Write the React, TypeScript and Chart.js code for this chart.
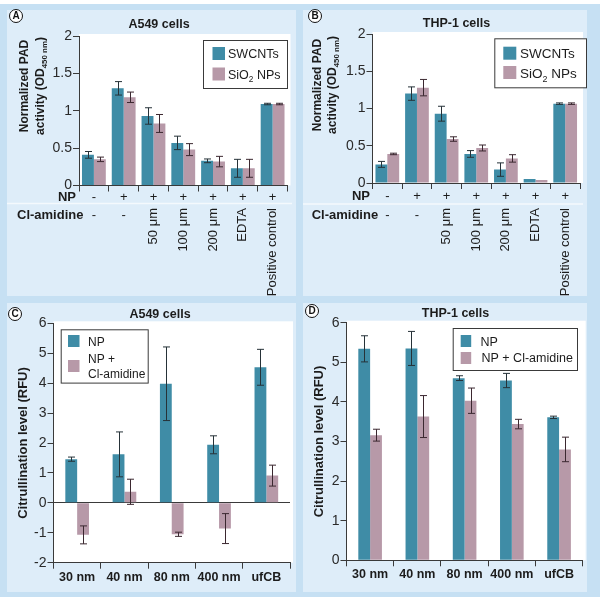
import React, { useEffect, useRef } from "react";
import { Chart, registerables } from "chart.js";
Chart.register(...registerables);

const FONT = "'Liberation Sans', Arial, Helvetica, sans-serif";
const TEAL = "#3f8ca6";
const MAUVE = "#b799a8";
const ERR_TEAL = "#263238";
const ERR_MAUVE = "#3b2830";
const AXIS = "#3a3a3a";
const TEXT = "#1c1c1c";
const OUTER = "#c6e0f3";
const PANEL = "#deedf9";

// ---- Panels A & B (PAD activity) ----
const npRow = ["-", "+", "+", "+", "+", "+", "+"];
const clRow = ["-", "-", "50 μm", "100 μm", "200 μm", "EDTA", "Positive control"];

const aSwcnt = [0.41, 1.3, 0.93, 0.57, 0.33, 0.23, 1.09];
const aSwcntErr = [0.045, 0.09, 0.11, 0.09, 0.025, 0.12, 0.01];
const aSio2 = [0.35, 1.18, 0.83, 0.48, 0.32, 0.23, 1.09];
const aSio2Err = [0.03, 0.07, 0.12, 0.08, 0.07, 0.12, 0.01];

const bSwcnt = [0.25, 1.2, 0.93, 0.39, 0.18, 0.055, 1.065];
const bSwcntErr = [0.04, 0.09, 0.1, 0.045, 0.09, 0, 0.01];
const bSio2 = [0.39, 1.28, 0.59, 0.47, 0.33, 0.04, 1.065];
const bSio2Err = [0.01, 0.11, 0.03, 0.04, 0.05, 0, 0.01];

// ---- Panels C & D (citrullination) ----
const sizes = ["30 nm", "40 nm", "80 nm", "400 nm", "ufCB"];

const cNp = [1.46, 1.62, 3.98, 1.94, 4.53];
const cNpErr = [0.07, 0.75, 1.23, 0.3, 0.6];
const cCl = [-1.07, 0.37, -1.05, -0.86, 0.91];
const cClErr = [0.3, 0.42, 0.07, 0.5, 0.35];

const dNp = [5.34, 5.35, 4.6, 4.54, 3.61];
const dNpErr = [0.33, 0.43, 0.06, 0.18, 0.03];
const dCl = [3.16, 3.63, 4.03, 3.44, 2.8];
const dClErr = [0.15, 0.53, 0.32, 0.12, 0.31];

const SUB: Record<string, string> = {
  "₀": "0", "₁": "1", "₂": "2", "₃": "3", "₄": "4", "₅": "5", "₆": "6", "₇": "7", "₈": "8", "₉": "9", "ₙ": "n", "ₘ": "m",
};

function segs(text: string) {
  const out: { t: string; sub: boolean }[] = [];
  const ch = Array.from(text);
  ch.forEach((c, i) => {
    let sub = c in SUB;
    if (c === " " && i > 0 && ch[i - 1] in SUB && i + 1 < ch.length && ch[i + 1] in SUB) sub = true;
    const t = sub ? SUB[c] ?? c : c;
    const last = out[out.length - 1];
    if (last && last.sub === sub) last.t += t;
    else out.push({ t, sub });
  });
  return out;
}

function drawRich(ctx: CanvasRenderingContext2D, text: string, x: number, y: number, size: number, weight: string, align: "left" | "center") {
  const sg = segs(text);
  const f = (sub: boolean) => `${weight} ${sub ? size * 0.66 : size}px ${FONT}`;
  let total = 0;
  sg.forEach((s) => {
    ctx.font = f(s.sub);
    total += ctx.measureText(s.t).width;
  });
  let cx = align === "center" ? x - total / 2 : x;
  ctx.textAlign = "left";
  ctx.textBaseline = "alphabetic";
  sg.forEach((s) => {
    ctx.font = f(s.sub);
    ctx.fillText(s.t, cx, y + (s.sub ? size * 0.25 : 0));
    cx += ctx.measureText(s.t).width;
  });
}

type Series = { label: string; values: number[]; errors: number[]; color: string; err: string };
type LegendItem = { sq: [number, number, number, number]; tx: number; ty: number[]; lines: string[] };
type Rows = { npY: number; lineY: number; clY: number; rotTop: number; npLabelX: number; clLabelX: number };
type Cfg = {
  key: string;
  pos: [number, number, number, number];
  labels: string[];
  series: Series[];
  yMin: number;
  yMax: number;
  yStep: number;
  area: [number, number, number, number];
  catPct: number;
  title: [string, number, number];
  yTitle: { lines: string[]; xs: number[]; cy: number; size: number };
  legend: { box: [number, number, number, number]; font: number; items: LegendItem[] };
  zeroLine: boolean;
  rows?: Rows;
};

const panels: Cfg[] = [
  {
    key: "A",
    pos: [7, 10, 289, 286],
    labels: clRow,
    series: [
      { label: "SWCNTs", values: aSwcnt, errors: aSwcntErr, color: TEAL, err: ERR_TEAL },
      { label: "SiO₂ NPs", values: aSio2, errors: aSio2Err, color: MAUVE, err: ERR_MAUVE },
    ],
    yMin: 0, yMax: 2, yStep: 0.5,
    area: [72, 26, 280.5, 175.5],
    catPct: 0.8,
    title: ["A549 cells", 152, 15],
    yTitle: { lines: ["Normalized PAD", "activity (OD₄₅₀ ₙₘ)"], xs: [17, 33], cy: 76, size: 12 },
    legend: {
      box: [196, 30, 84, 48], font: 12.5,
      items: [
        { sq: [205.5, 37, 12.5, 13], tx: 221, ty: [43.5], lines: ["SWCNTs"] },
        { sq: [205.5, 57.5, 12.5, 13], tx: 221, ty: [64], lines: ["SiO₂ NPs"] },
      ],
    },
    zeroLine: false,
    rows: { npY: 187, lineY: 193.5, clY: 205.5, rotTop: 198, npLabelX: 69, clLabelX: 10 },
  },
  {
    key: "B",
    pos: [303, 10, 284, 286],
    labels: clRow,
    series: [
      { label: "SWCNTs", values: bSwcnt, errors: bSwcntErr, color: TEAL, err: ERR_TEAL },
      { label: "SiO₂ NPs", values: bSio2, errors: bSio2Err, color: MAUVE, err: ERR_MAUVE },
    ],
    yMin: 0, yMax: 2, yStep: 0.5,
    area: [69.5, 24, 277, 173],
    catPct: 0.8,
    title: ["THP-1 cells", 153.5, 13.5],
    yTitle: { lines: ["Normalized PAD", "activity (OD₄₅₀ ₙₘ)"], xs: [13.7, 28.7], cy: 75, size: 12 },
    legend: {
      box: [191.3, 28.3, 91.7, 49], font: 13.5,
      items: [
        { sq: [200.3, 36.7, 13, 13], tx: 217, ty: [43.3], lines: ["SWCNTs"] },
        { sq: [200.3, 56, 13, 13], tx: 217, ty: [63.3], lines: ["SiO₂ NPs"] },
      ],
    },
    zeroLine: false,
    rows: { npY: 186.7, lineY: 194, clY: 205, rotTop: 198, npLabelX: 67, clLabelX: 8.7 },
  },
  {
    key: "C",
    pos: [7, 303, 289, 289],
    labels: sizes,
    series: [
      { label: "NP", values: cNp, errors: cNpErr, color: TEAL, err: ERR_TEAL },
      { label: "NP + Cl-amidine", values: cCl, errors: cClErr, color: MAUVE, err: ERR_MAUVE },
    ],
    yMin: -2, yMax: 6, yStep: 1,
    area: [46.5, 20.3, 283, 259.7],
    catPct: 0.5,
    title: ["A549 cells", 153, 12],
    yTitle: { lines: ["Citrullination level (RFU)"], xs: [15], cy: 140, size: 13 },
    legend: {
      box: [53.7, 26.3, 87, 53.3], font: 12,
      items: [
        { sq: [61, 32, 11.5, 12], tx: 81, ty: [38.7], lines: ["NP"] },
        { sq: [61, 57, 11.5, 12], tx: 81, ty: [55.3, 70.3], lines: ["NP +", "Cl-amidine"] },
      ],
    },
    zeroLine: true,
  },
  {
    key: "D",
    pos: [303, 303, 284, 289],
    labels: sizes,
    series: [
      { label: "NP", values: dNp, errors: dNpErr, color: TEAL, err: ERR_TEAL },
      { label: "NP + Cl-amidine", values: dCl, errors: dClErr, color: MAUVE, err: ERR_MAUVE },
    ],
    yMin: 0, yMax: 6, yStep: 1,
    area: [43.5, 19.7, 279.7, 257.3],
    catPct: 0.5,
    title: ["THP-1 cells", 152.5, 10.3],
    yTitle: { lines: ["Citrullination level (RFU)"], xs: [15], cy: 138.5, size: 13 },
    legend: {
      box: [149.7, 25, 124.3, 42], font: 12.5,
      items: [
        { sq: [157.7, 32, 10.5, 12], tx: 177.5, ty: [38], lines: ["NP"] },
        { sq: [157.7, 49, 10.5, 12], tx: 178.5, ty: [54.5], lines: ["NP + Cl-amidine"] },
      ],
    },
    zeroLine: false,
  },
];

const letters: [string, number, number][] = [
  ["A", 16, 16],
  ["B", 315, 16],
  ["C", 15, 314],
  ["D", 312, 311],
];

function makePlugin(cfg: Cfg) {
  return {
    id: "custom" + cfg.key,
    beforeDraw(chart: any) {
      const { ctx, chartArea } = chart;
      ctx.save();
      ctx.fillStyle = "#ffffff";
      ctx.fillRect(chartArea.left, chartArea.top - 2, chartArea.right - chartArea.left + 3, chartArea.bottom - chartArea.top + 2);
      ctx.restore();
    },
    afterDatasetsDraw(chart: any) {
      const ctx: CanvasRenderingContext2D = chart.ctx;
      const ys = chart.scales.y;
      ctx.save();
      cfg.series.forEach((s, di) => {
        const meta = chart.getDatasetMeta(di);
        ctx.strokeStyle = s.err;
        ctx.lineWidth = 1;
        meta.data.forEach((el: any, i: number) => {
          const e = s.errors[i];
          if (!e) return;
          const x = Math.round(el.x) + 0.5;
          const y1 = ys.getPixelForValue(s.values[i] + e);
          const y2 = ys.getPixelForValue(s.values[i] - e);
          ctx.beginPath();
          ctx.moveTo(x, y1);
          ctx.lineTo(x, y2);
          ctx.moveTo(x - 3.5, y1);
          ctx.lineTo(x + 3.5, y1);
          ctx.moveTo(x - 3.5, y2);
          ctx.lineTo(x + 3.5, y2);
          ctx.stroke();
        });
      });
      ctx.restore();
    },
    afterDraw(chart: any) {
      const ctx: CanvasRenderingContext2D = chart.ctx;
      ctx.save();
      ctx.fillStyle = TEXT;
      // title
      ctx.font = `bold 12.5px ${FONT}`;
      ctx.textAlign = "center";
      ctx.textBaseline = "middle";
      ctx.fillText(cfg.title[0], cfg.title[1], cfg.title[2]);
      // y title
      cfg.yTitle.lines.forEach((line, i) => {
        ctx.save();
        ctx.translate(cfg.yTitle.xs[i], cfg.yTitle.cy);
        ctx.rotate(-Math.PI / 2);
        drawRich(ctx, line, 0, cfg.yTitle.size * 0.36, cfg.yTitle.size, "bold", "center");
        ctx.restore();
      });
      // legend
      const lg = cfg.legend;
      ctx.strokeStyle = "#3a3a3a";
      ctx.lineWidth = 1;
      ctx.fillStyle = "#ffffff";
      ctx.fillRect(lg.box[0], lg.box[1], lg.box[2], lg.box[3]);
      ctx.strokeRect(lg.box[0] + 0.5, lg.box[1] + 0.5, lg.box[2], lg.box[3]);
      lg.items.forEach((it, i) => {
        ctx.fillStyle = cfg.series[i].color;
        ctx.fillRect(it.sq[0], it.sq[1], it.sq[2], it.sq[3]);
        ctx.fillStyle = TEXT;
        it.lines.forEach((ln, j) => {
          drawRich(ctx, ln, it.tx, it.ty[j] + lg.font * 0.36, lg.font, "normal", "left");
        });
      });
      // rows under the axis (A/B)
      if (cfg.rows) {
        const r = cfg.rows;
        const xs = chart.scales.x;
        ctx.strokeStyle = "#f4f9fd";
        ctx.lineWidth = 1.5;
        ctx.beginPath();
        ctx.moveTo(0, r.lineY);
        ctx.lineTo(chart.width - 4, r.lineY);
        ctx.stroke();
        ctx.fillStyle = TEXT;
        ctx.textBaseline = "middle";
        ctx.font = `bold 13px ${FONT}`;
        ctx.textAlign = "right";
        ctx.fillText("NP", r.npLabelX, r.npY);
        ctx.textAlign = "left";
        ctx.fillText("Cl-amidine", r.clLabelX, r.clY);
        ctx.font = `13px ${FONT}`;
        ctx.textAlign = "center";
        npRow.forEach((s, i) => ctx.fillText(s, xs.getPixelForValue(i), r.npY));
        clRow.forEach((s, i) => {
          const x = xs.getPixelForValue(i);
          if (s === "-") {
            ctx.textAlign = "center";
            ctx.fillText(s, x, r.clY);
          } else {
            ctx.save();
            ctx.translate(x, r.rotTop);
            ctx.rotate(-Math.PI / 2);
            ctx.textAlign = "right";
            ctx.textBaseline = "middle";
            ctx.fillText(s, 0, 0);
            ctx.restore();
          }
        });
      }
      ctx.restore();
    },
  };
}

function Panel({ cfg }: { cfg: Cfg }) {
  const ref = useRef<HTMLCanvasElement>(null);
  useEffect(() => {
    if (!ref.current) return;
    const [l, t, r, b] = cfg.area;
    const w = cfg.pos[2];
    const h = cfg.pos[3];
    const isAB = !!cfg.rows;
    const chart = new Chart(ref.current, {
      type: "bar",
      data: {
        labels: cfg.labels,
        datasets: cfg.series.map((s) => ({
          label: s.label,
          data: s.values,
          backgroundColor: s.color,
          borderWidth: 0,
          categoryPercentage: cfg.catPct,
          barPercentage: 1,
        })),
      },
      options: {
        responsive: false,
        animation: false,
        devicePixelRatio: 1,
        layout: { padding: { left: 0, top: t, right: w - r, bottom: 0 } },
        plugins: { legend: { display: false }, tooltip: { enabled: false }, title: { display: false } },
        scales: {
          x: {
            grid: { offset: true, drawOnChartArea: false, drawTicks: true, tickLength: 6, color: AXIS, lineWidth: 1 },
            border: { color: AXIS, width: 1 },
            ticks: {
              display: !isAB,
              color: TEXT,
              padding: 1,
              maxRotation: 0,
              autoSkip: false,
              font: { family: FONT, size: 12.5, weight: "bold" },
            },
            afterFit: (s: any) => {
              s.height = h - b;
            },
          },
          y: {
            min: cfg.yMin,
            max: cfg.yMax,
            ticks: {
              stepSize: cfg.yStep,
              color: "#2a2a2a",
              padding: 1,
              font: { family: FONT, size: 14 },
              callback: (v: any) => String(Number(Number(v).toFixed(2))),
            },
            grid: {
              drawOnChartArea: cfg.zeroLine,
              tickLength: 6,
              color: (c: any) => (cfg.zeroLine && c.tick && c.tick.value === 0 ? AXIS : "rgba(0,0,0,0)"),
              tickColor: AXIS,
              lineWidth: 1,
            },
            border: { color: AXIS, width: 1 },
            afterFit: (s: any) => {
              s.width = l;
            },
          },
        },
      } as any,
      plugins: [makePlugin(cfg)],
    });
    return () => chart.destroy();
  }, [cfg]);
  return (
    <div
      style={{
        position: "absolute",
        left: cfg.pos[0],
        top: cfg.pos[1],
        width: cfg.pos[2],
        height: cfg.pos[3],
        background: PANEL,
      }}
    >
      <canvas ref={ref} width={cfg.pos[2]} height={cfg.pos[3]} style={{ display: "block", width: cfg.pos[2], height: cfg.pos[3] }} />
    </div>
  );
}

export default function App() {
  return (
    <div style={{ position: "absolute", left: 0, top: 0, width: 600, height: 599, background: "#ffffff", overflow: "hidden", fontFamily: FONT }}>
      <div style={{ position: "absolute", left: 0, top: 4, width: 600, height: 593, background: OUTER }} />
      {panels.map((cfg) => (
        <Panel key={cfg.key} cfg={cfg} />
      ))}
      {letters.map(([t, x, y]) => (
        <div
          key={t}
          style={{
            position: "absolute",
            left: x - 7,
            top: y - 7,
            width: 12,
            height: 12,
            borderRadius: "50%",
            border: "1.2px solid #111",
            background: "#fff",
            fontSize: 10,
            fontWeight: "bold",
            lineHeight: "12px",
            textAlign: "center",
            color: "#111",
            fontFamily: FONT,
          }}
        >
          {t}
        </div>
      ))}
    </div>
  );
}
